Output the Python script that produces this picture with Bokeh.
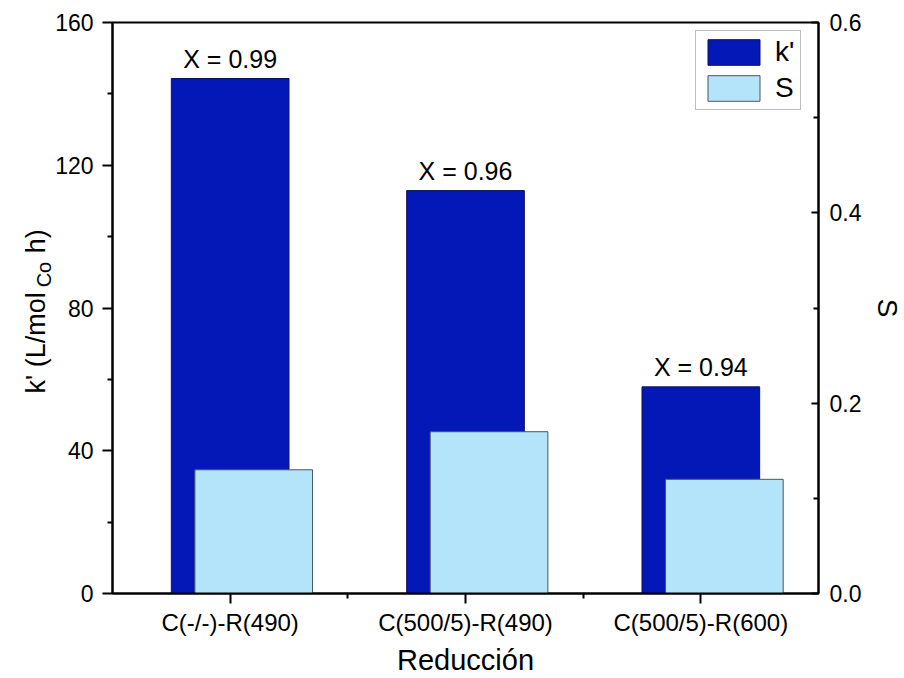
import math
from bokeh.plotting import figure
from bokeh.layouts import row
from bokeh.models import (Range1d, LinearAxis, FixedTicker, ColumnDataSource, LabelSet,
                          Legend, LegendItem, PrintfTickFormatter)
from bokeh.embed import file_html
from bokeh.resources import INLINE
from bokeh.core.properties import value
from bokeh.transform import dodge

# ---- data ----
categories = ["C(-/-)-R(490)", "C(500/5)-R(490)", "C(500/5)-R(600)"]
k_values = [144.3, 112.9, 57.9]
s_values = [0.130, 0.170, 0.120]
conversions = [0.99, 0.96, 0.94]
left_ticks = [0, 40, 80, 120, 160]
left_minor = [20, 60, 100, 140]
right_ticks = [0.0, 0.2, 0.4, 0.6]
right_minor = [0.1, 0.3, 0.5]
y_title_parts = ["k' (L/mol", "Co", "h)"]
right_title = "S"
x_title = "Reducción"

FONT = "Liberation Sans"
K_COLOR = "#0418B8"
S_COLOR = "#B4E4FA"
H = 678
TOP, BOTTOM = 22, 593   # frame edges in page pixels
LW = 52      # left title strip
RW = 40      # right title strip

x_pos = [i + 1 for i in range(len(categories))]
src = ColumnDataSource(dict(x=x_pos, k=k_values, s=s_values,
                            lab=["X = %.2f" % c for c in conversions]))

p = figure(width=904 - LW - RW, height=H, output_backend="svg", toolbar_location=None, tools="",
           x_range=Range1d(0.5, len(categories) + 0.5), y_range=Range1d(0, 160),
           min_border_left=111 - LW, min_border_right=83 - RW, min_border_top=TOP,
           min_border_bottom=H - BOTTOM)
p.extra_y_ranges = {"s": Range1d(0, 0.6)}
p.grid.visible = False
p.outline_line_color = "black"
p.outline_line_width = 2
p.background_fill_color = "white"
p.border_fill_color = "white"

rk = p.vbar(x="x", top="k", width=0.5, source=src, fill_color=K_COLOR,
            line_color="#10105a", line_width=1)
rs = p.vbar(x=dodge("x", 0.1), top="s", width=0.5, source=src, y_range_name="s",
            fill_color=S_COLOR, line_color="#4a5560", line_width=1)

# x axis
xa = p.xaxis[0]
xa.ticker = FixedTicker(ticks=x_pos, minor_ticks=[1.5, 2.5])
xa.major_label_overrides = {x: c for x, c in zip(x_pos, categories)}
xa.axis_label = x_title

# left axis
ya = p.yaxis[0]
ya.ticker = FixedTicker(ticks=left_ticks, minor_ticks=left_minor)

# right axis
ra = LinearAxis(y_range_name="s", ticker=FixedTicker(ticks=right_ticks, minor_ticks=right_minor),
                formatter=PrintfTickFormatter(format="%.1f"))
p.add_layout(ra, "right")

for ax in (xa, ya, ra):
    ax.axis_line_width = 2
    ax.axis_line_color = "black"
    ax.major_tick_line_width = 2
    ax.minor_tick_line_width = 2
    ax.major_tick_line_color = "black"
    ax.minor_tick_line_color = "black"
    ax.major_label_text_font = FONT
    ax.major_label_text_font_size = "23px"
    ax.major_label_text_color = "black"
    ax.axis_label_text_font = FONT
    ax.axis_label_text_font_size = "29px"
    ax.axis_label_text_font_style = "normal"
    ax.axis_label_text_color = "black"

xa.major_label_text_font_size = "24px"
xa.major_tick_out = 10
xa.major_tick_in = 0
xa.minor_tick_out = 5
xa.minor_tick_in = 0
xa.major_label_standoff = 5
xa.axis_label_standoff = 5

ya.major_tick_out = 10
ya.major_tick_in = 0
ya.minor_tick_out = 5
ya.minor_tick_in = 0
ya.major_label_standoff = 9

ra.major_tick_out = 0
ra.major_tick_in = 7
ra.minor_tick_out = 0
ra.minor_tick_in = 5
ra.major_label_standoff = 11

# conversion labels
p.add_layout(LabelSet(x="x", y="k", text="lab", source=src, y_offset=11,
                      text_align="center", text_baseline="alphabetic",
                      text_font=value(FONT), text_font_size="25px", text_color="black"))

# legend
legend = Legend(items=[LegendItem(label=value("k'"), renderers=[rk]),
                       LegendItem(label=value("S"), renderers=[rs])],
                location=(583, 483), glyph_width=65, glyph_height=32, label_standoff=9,
                padding=5, spacing=4, margin=0, border_line_color="#808080", border_line_width=1,
                label_text_font=FONT, label_text_font_size="28px", label_text_color="black",
                background_fill_color="white", background_fill_alpha=1)
p.add_layout(legend)

# The row layout aligns the strips' frames with the main frame (TOP..BOTTOM),
# so map data y = H - page_y over that span.
def strip(w):
    f = figure(width=w, height=H, output_backend="svg", toolbar_location=None, tools="",
               x_range=Range1d(0, w), y_range=Range1d(H - BOTTOM, H - TOP), min_border=0,
               x_axis_location=None, y_axis_location=None)
    f.grid.visible = False
    f.outline_line_color = None
    f.border_fill_color = "white"
    f.background_fill_color = "white"
    return f

# ---- left strip: y-axis title with subscript ----
lf = strip(LW)
main_fs, sub_fs = 27, 20
w1 = 3.747 * main_fs          # width of "k' (L/mol"
w2 = 1.278 * sub_fs           # width of "Co"
w_sp = 0.278 * main_fs + 1    # space before "h)"
y_start = H - 393
y_sub = y_start + w1 + 5
lf.text(x=[35, 43, 35], y=[y_start, y_sub, y_sub + w2 + w_sp],
        text=y_title_parts, angle=math.pi / 2, text_align="left", text_baseline="alphabetic",
        text_font=value(FONT), text_font_size=["%dpx" % main_fs, "%dpx" % sub_fs, "%dpx" % main_fs],
        text_color="black")

# ---- right strip: right-axis title ----
rf = strip(RW)
rf.text(x=[887 - (904 - RW)], y=[H - 307.5], text=[right_title], angle=-math.pi / 2,
        text_align="center", text_baseline="middle", text_font=value(FONT),
        text_font_size="28px", text_color="black")

layout = row(lf, p, rf, spacing=0)
open("out.html", "w").write(file_html(layout, INLINE))
